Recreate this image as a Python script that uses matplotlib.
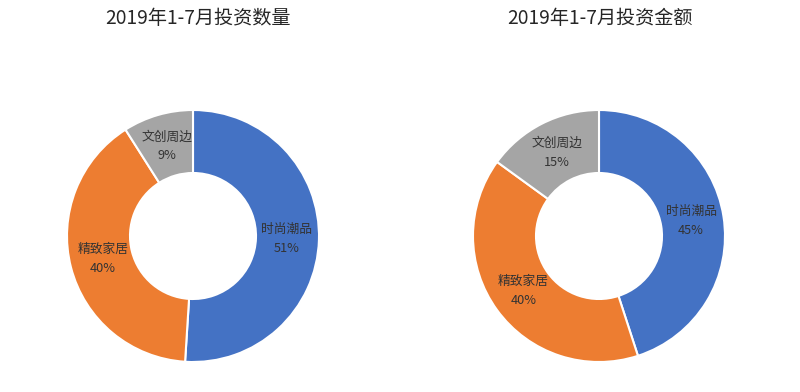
import matplotlib.pyplot as plt

plt.rcParams['font.family'] = ['Noto Sans CJK SC', 'DejaVu Sans']

categories = ["时尚潮品", "精致家居", "文创周边"]
count_share = [51, 40, 9]
amount_share = [45, 40, 15]
titles = ["2019年1-7月投资数量", "2019年1-7月投资金额"]
colors = ["#4472C4", "#ED7D31", "#A5A5A5"]

W, H = 800, 392
fig = plt.figure(figsize=(W / 100, H / 100), dpi=100)


def donut(cx, cy, r, values, title, tx):
    ax = fig.add_axes([(cx - r) / W, (H - cy - r) / H, 2 * r / W, 2 * r / H])
    wedges, texts, autotexts = ax.pie(
        values, colors=colors, startangle=90, counterclock=False, radius=1,
        wedgeprops=dict(width=0.5, edgecolor="white", linewidth=1.5),
        autopct="%d%%", pctdistance=0.74,
    )
    for t, name, v in zip(autotexts, categories, values):
        t.set_text(f"{name}\n{v}%")
        t.set_fontsize(9.2)
        t.set_color("#333333")
        t.set_linespacing(1.6)
    ax.set_xlim(-1, 1)
    ax.set_ylim(-1, 1)
    ax.set_aspect("equal")
    ax.axis("off")
    fig.text(tx / W, 1 - 19 / H, title, ha="center", va="center",
             fontsize=13.8, color="#262626")


donut(193, 236, 126, count_share, titles[0], 198)
donut(599, 236, 126, amount_share, titles[1], 600)

fig.savefig("out.png", dpi=100, facecolor="white")
